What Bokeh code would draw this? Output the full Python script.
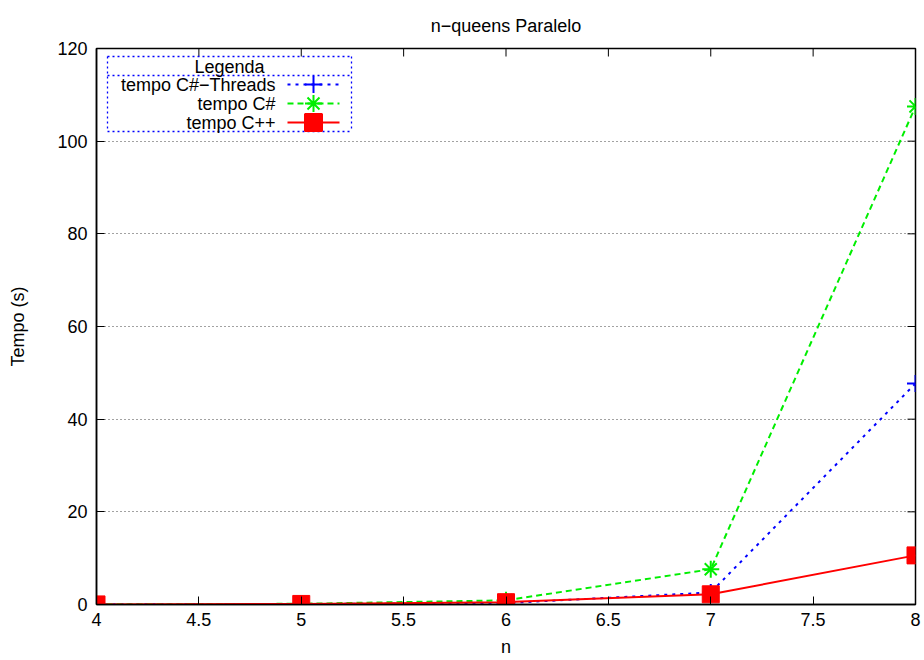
from bokeh.plotting import figure
from bokeh.models import Range1d, FixedTicker, Title
from bokeh.core.properties import value
from bokeh.embed import file_html
from bokeh.resources import INLINE

# Execution times (seconds) of the parallel n-queens solver
n = [4, 5, 6, 7, 8]
tempo_cs_threads = [0.02, 0.1, 0.3, 2.6, 47.7]
tempo_cs = [0.03, 0.15, 0.9, 7.6, 107.5]
tempo_cpp = [0.02, 0.12, 0.5, 2.2, 10.6]

x_ticks = [4, 4.5, 5, 5.5, 6, 6.5, 7, 7.5, 8]
x_tick_labels = ["4", "4.5", "5", "5.5", "6", "6.5", "7", "7.5", "8"]
y_ticks = [0, 20, 40, 60, 80, 100, 120]
y_tick_labels = ["0", "20", "40", "60", "80", "100", "120"]

series_names = ["tempo C#\u2212Threads", "tempo C#", "tempo C++"]
series_colors = ["#0000ff", "#00ee00", "#ff0000"]

FONT = "Liberation Sans"
FS = "18px"

W, H = 924, 660
ML, MR, MT, MB = 96, 9, 48, 56
FW, FH = W - ML - MR, H - MT - MB
TICK = 8  # tick length in pixels, pointing into the frame

X0, X1 = x_ticks[0], x_ticks[-1]
Y0, Y1 = y_ticks[0], y_ticks[-1]

p = figure(width=W, height=H, output_backend="svg", toolbar_location=None,
           x_range=Range1d(X0, X1), y_range=Range1d(Y0, Y1),
           min_border_left=ML, min_border_right=MR,
           min_border_top=MT, min_border_bottom=MB,
           x_axis_label="n", y_axis_label="Tempo (s)")
p.title = Title(text="n\u2212queens Paralelo", align="center", standoff=26,
                text_font=FONT, text_font_size=FS, text_font_style="normal",
                text_color="#000000")
p.outline_line_color = "#000000"
p.outline_line_width = 1.5

# pixel-space ranges for the boxed legend drawn inside the frame
p.extra_x_ranges = {"px": Range1d(0, FW)}
p.extra_y_ranges = {"py": Range1d(FH, 0)}

p.xgrid.grid_line_color = None
p.ygrid.ticker = FixedTicker(ticks=y_ticks[1:-1])
p.ygrid.grid_line_color = "#444444"
p.ygrid.grid_line_dash = "1 3"
p.ygrid.grid_line_width = 1

x_over = {t: s for t, s in zip(x_ticks, x_tick_labels)}
y_over = {t: s for t, s in zip(y_ticks, y_tick_labels)}

for ax in p.xaxis:
    ax.ticker = FixedTicker(ticks=x_ticks)
    ax.major_label_overrides = x_over
    ax.major_label_standoff = 8
    ax.axis_label_standoff = 8
for ax in p.yaxis:
    ax.ticker = FixedTicker(ticks=y_ticks)
    ax.major_label_overrides = y_over
    ax.major_label_standoff = 9
    ax.axis_label_standoff = 26

for ax in list(p.xaxis) + list(p.yaxis):
    ax.major_tick_in = TICK
    ax.major_tick_out = 0
    ax.minor_tick_line_color = None
    ax.axis_line_width = 1.5
    ax.axis_line_color = "#000000"
    ax.major_tick_line_color = "#000000"
    ax.major_label_text_font = FONT
    ax.major_label_text_font_size = FS
    ax.major_label_text_color = "#000000"
    ax.axis_label_text_font = FONT
    ax.axis_label_text_font_size = FS
    ax.axis_label_text_font_style = "normal"
    ax.axis_label_text_color = "#000000"

# mirrored ticks on the top and right borders
dy = TICK * (Y1 - Y0) / FH
dx = TICK * (X1 - X0) / FW
p.segment(x0=x_ticks, x1=x_ticks, y0=[Y1] * len(x_ticks), y1=[Y1 - dy] * len(x_ticks),
          line_color="#000000", line_width=1)
p.segment(x0=[X1] * len(y_ticks), x1=[X1 - dx] * len(y_ticks), y0=y_ticks, y1=y_ticks,
          line_color="#000000", line_width=1)

# data series
p.line(n, tempo_cs_threads, color=series_colors[0], line_width=2, line_dash="3 5")
p.scatter(n, tempo_cs_threads, marker="cross", size=17, line_color=series_colors[0], line_width=2)

p.line(n, tempo_cs, color=series_colors[1], line_width=2, line_dash="6 4")
p.scatter(n, tempo_cs, marker="asterisk", size=17, line_color=series_colors[1], line_width=2)

p.line(n, tempo_cpp, color=series_colors[2], line_width=2)
p.scatter(n, tempo_cpp, marker="square", size=17, fill_color=series_colors[2],
          line_color=series_colors[2], line_width=1)

# boxed legend: title row, then label on the left, sample on the right
lx0, lx1, ly0, ly1, lsep = 11, 255, 8, 83, 27
leg_border = dict(line_color="#0000ff", line_dash="2 3", line_width=1.3,
                  x_range_name="px", y_range_name="py")
p.segment(x0=[lx0, lx0, lx0, lx0, lx1], x1=[lx1, lx1, lx1, lx0, lx1],
          y0=[ly0, lsep, ly1, ly0, ly0], y1=[ly0, lsep, ly1, ly1, ly1], **leg_border)
p.text(x=[133], y=[18], text=["Legenda"], text_align="center",
       text_baseline="middle", text_font=value(FONT), text_font_size=FS,
       text_color="#000000", x_range_name="px", y_range_name="py")

row_y = [36, 55, 74]
dashes = ["3 5", "6 4", "solid"]
markers = ["cross", "asterisk", "square"]
for name, col, yy, dash, mk in zip(series_names, series_colors, row_y, dashes, markers):
    p.text(x=[179], y=[yy], text=[name], text_align="right", text_baseline="middle",
           text_font=value(FONT), text_font_size=FS, text_color="#000000",
           x_range_name="px", y_range_name="py")
    p.segment(x0=[191], x1=[243], y0=[yy], y1=[yy], line_color=col, line_width=2,
              line_dash=dash, x_range_name="px", y_range_name="py")
    p.scatter(x=[217], y=[yy], marker=mk, size=17, line_color=col, line_width=2,
              fill_color=col, x_range_name="px", y_range_name="py")

open("out.html", "w").write(file_html(p, INLINE))
